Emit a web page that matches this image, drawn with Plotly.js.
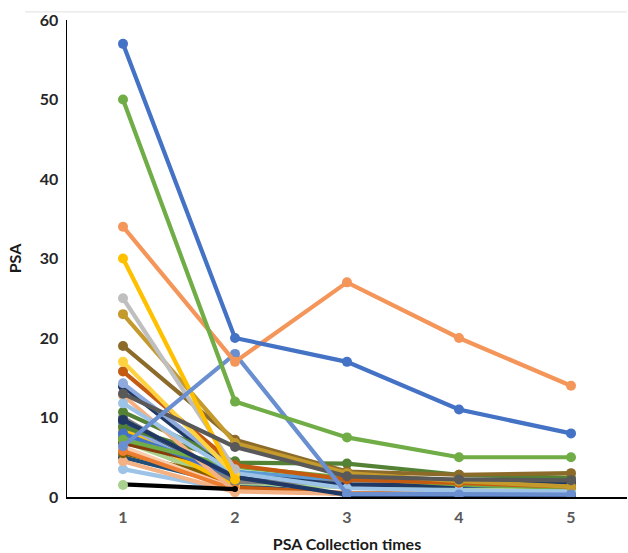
<!DOCTYPE html>
<html>
<head>
<meta charset="utf-8">
<script src="https://cdn.plot.ly/plotly-3.0.1.min.js"></script>
<style>html,body{margin:0;padding:0;background:#fff;}#chart{width:628px;height:553px;}</style>
</head>
<body>
<div id="chart"></div>
<script>
const categories = [1, 2, 3, 4, 5];
const tickLabels = ["1", "2", "3", "4", "5"];

// one array per patient series (PSA at collection times 1..5)
const seriesColors = [
  "#9DC3E6", "#1F4E79", "#C55A11", "#FFD966", "#F4B183", "#2E75B6",
  "#A9D18E", "#7F6000", "#8FAADC", "#FFC000", "#2F5597", "#843C0C",
  "#538135", "#F8CBAD", "#5B9BD5", "#7F7F7F", "#ED7D31", "#203864",
  "#4472C4", "#70AD47", "#548235", "#F4B183", "#9DC3E6", "#1F3864",
  "#8FAADC", "#C55A11", "#FFD23F", "#8C6B2A", "#C49A2C", "#BFBFBF",
  "#FFC000", "#595959", "#6A8FD0", "#F4955A", "#70AD47", "#4472C4",
  "#000000", "#A9D18E"
];
const seriesValues = [
  [3.5, 0.8, null, null, null],
  [5.0, 1.5, 0.3, 0.2, 0.2],
  [7.5, 1.2, 0.5, 0.4, 0.3],
  [6.0, 1.0, null, null, null],
  [4.5, 0.6, null, null, null],
  [8.2, 2.0, null, null, null],
  [7.0, 1.8, 1.2, 1.0, 1.0],
  [5.5, 2.2, null, null, null],
  [9.0, 1.6, null, null, null],
  [8.5, 1.4, null, null, null],
  [9.5, 2.4, 1.6, 1.4, 1.5],
  [6.8, 3.5, null, null, null],
  [8.8, 4.5, null, null, null],
  [6.3, 1.0, null, null, null],
  [7.8, 3.2, 2.0, 1.8, 1.6],
  [10.0, 1.9, 1.8, 2.2, 2.2],
  [5.8, 0.9, null, null, null],
  [13.9, 2.8, 1.5, 1.5, 1.8],
  [8.0, 2.6, null, null, null],
  [7.2, 3.8, 2.4, 1.6, 1.1],
  [10.7, 4.3, 4.2, 2.8, 2.4],
  [12.8, 0.7, 0.4, 0.3, 0.5],
  [11.8, 3.0, 1.1, 0.8, 0.7],
  [9.7, 2.5, 0.3, 0.2, 0.2],
  [14.3, 3.4, null, null, null],
  [15.8, 4.0, 2.2, 1.8, 1.3],
  [17.0, 2.8, null, null, null],
  [19.0, 7.2, 3.2, 2.8, 3.0],
  [23.0, 6.8, 3.0, 2.0, 1.3],
  [25.0, 3.5, null, null, null],
  [30.0, 2.2, null, null, null],
  [13.0, 6.3, 2.6, 2.2, 2.1],
  [6.4, 18.0, 0.4, 0.3, 0.3],
  [34.0, 17.0, 27.0, 20.0, 14.0],
  [50.0, 12.0, 7.5, 5.0, 5.0],
  [57.0, 20.0, 17.0, 11.0, 8.0],
  [1.6, 1.0, null, null, null],
  [1.5, null, null, null, null]
];

const traces = seriesValues.map((vals, i) => ({
  type: "scatter",
  mode: "lines+markers",
  x: categories,
  y: vals,
  connectgaps: false,
  line: { color: seriesColors[i], width: 4.2 },
  marker: { color: seriesColors[i], size: seriesColors[i] === "#000000" ? 0 : 10 },
  hoverinfo: "skip",
  showlegend: false
}));

const labelFont = "Lato, Open Sans, sans-serif";

const layout = {
  width: 628,
  height: 553,
  margin: { l: 67, r: 1, t: 20, b: 56 },
  paper_bgcolor: "#ffffff",
  plot_bgcolor: "#ffffff",
  font: { family: labelFont, color: "#595959" },
  xaxis: {
    range: [0.5, 5.5],
    tickvals: categories,
    ticktext: tickLabels,
    showgrid: false,
    zeroline: false,
    showline: true,
    linecolor: "#000000",
    linewidth: 1.5,
    ticks: "",
    ticklabelstandoff: 5,
    tickfont: { size: 16, color: "#595959", family: labelFont, weight: "bold" },
    title: { text: "PSA Collection times", font: { size: 16, color: "#1a1a1a", family: labelFont, weight: "bold" }, standoff: 14 }
  },
  yaxis: {
    range: [0, 60],
    tickvals: [0, 10, 20, 30, 40, 50, 60],
    showgrid: false,
    zeroline: false,
    showline: true,
    linecolor: "#000000",
    linewidth: 1.5,
    ticks: "",
    ticklabelstandoff: 4,
    tickfont: { size: 16, color: "#262626", family: labelFont, weight: "bold" },
    title: { text: "PSA", font: { size: 16, color: "#1a1a1a", family: labelFont, weight: "bold" }, standoff: 14 }
  },
  shapes: [{
    type: "line", xref: "paper", yref: "paper",
    x0: -0.075, x1: 1, y0: 1.017, y1: 1.017,
    line: { color: "#E0E0E0", width: 1 }
  }]
};

Plotly.newPlot("chart", traces, layout, { staticPlot: true, displayModeBar: false });
</script>
</body>
</html>
